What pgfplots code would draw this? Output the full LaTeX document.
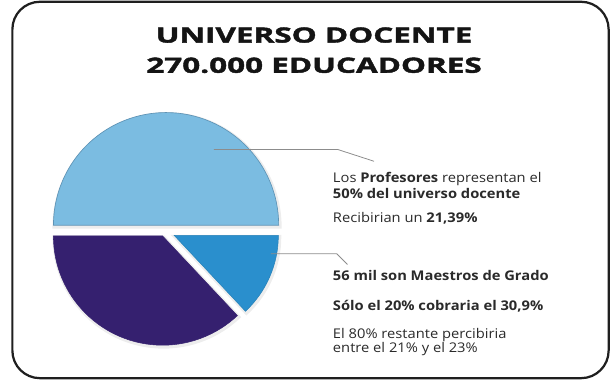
\documentclass[border=0pt]{standalone}
\usepackage{pgfplots}
\pgfplotsset{compat=1.18}
\usepackage{pgfplotstable}
\usepackage{fontspec}
\setmainfont{Open Sans}
\newfontfamily\bodyfont[FakeStretch=1.1]{Open Sans}
\newfontfamily\titlefont[FakeStretch=1.5,BoldFeatures={FakeBold=2}]{Open Sans}
\definecolor{lblue}{HTML}{7BBCE1}
\definecolor{lblueedge}{HTML}{5E93B5}
\definecolor{mblue}{HTML}{2A8FCD}
\definecolor{dpurple}{HTML}{35206F}
\definecolor{txt}{HTML}{2A2A2A}
\pgfplotstableread{
label value
Profesores 50
Otros 37
Maestros 13
}\piedata
\begin{document}
\pgfplotstablegetelem{0}{value}\of\piedata \let\va\pgfplotsretval
\pgfplotstablegetelem{1}{value}\of\piedata \let\vb\pgfplotsretval
\pgfplotstablegetelem{2}{value}\of\piedata \let\vc\pgfplotsretval
\pgfmathsetmacro{\angA}{3.6*\va}
\pgfmathsetmacro{\angB}{\angA+3.6*\vb}
\pgfmathsetmacro{\angC}{\angB+3.6*\vc}
\begin{tikzpicture}
\begin{axis}[
  width=457.5pt, height=290.25pt, scale only axis,
  xmin=0, xmax=610, ymin=0, ymax=387, y dir=reverse,
  hide axis, clip=false,
]
\coordinate (bbA) at (axis cs:0,387);
\coordinate (bbB) at (axis cs:610,0);
% border
\draw[black!88, line width=1.7pt, rounded corners=21pt] (axis cs:2.2,1.8) rectangle (axis cs:608.6,384.6);
% shadows
\path[fill=black!12, draw=black!7, line width=3pt] (axis cs:159.5,230.5) -- ++(0:85.9pt) arc[start angle=0,end angle=\angA,radius=85.9pt] -- cycle;
\path[fill=black!12, draw=black!7, line width=3pt] (axis cs:156,241.5) -- ++(\angA:83.3pt) arc[start angle=\angA,end angle=\angB,radius=83.3pt] -- cycle;
\path[fill=black!12, draw=black!7, line width=3pt] (axis cs:167.7,240.8) -- ++(\angB:79.5pt) arc[start angle=\angB,end angle=\angC,radius=79.5pt] -- cycle;
% slices
\path[fill=lblue, draw=lblueedge, line width=0.5pt] (axis cs:158.5,229) -- ++(0:85.9pt) arc[start angle=0,end angle=\angA,radius=85.9pt] -- cycle;
\path[fill=dpurple, draw=dpurple, line width=0.4pt] (axis cs:155,240) -- ++(\angA:83.3pt) arc[start angle=\angA,end angle=\angB,radius=83.3pt] -- cycle;
\path[fill=mblue, draw=mblue!90!black, line width=0.4pt] (axis cs:166.7,239.3) -- ++(\angB:79.5pt) arc[start angle=\angB,end angle=\angC,radius=79.5pt] -- cycle;
% leader lines
\draw[black!45, line width=0.6pt] (axis cs:207,152) -- (axis cs:333,152) -- (axis cs:370,164);
\draw[black!45, line width=0.6pt] (axis cs:265,258) -- (axis cs:332,258) -- (axis cs:343,269);
% title
\node[anchor=base, font=\titlefont\bfseries\fontsize{16}{20}\selectfont, text=black!92] at (axis cs:309,43.3) {UNIVERSO DOCENTE};
\node[anchor=base, font=\titlefont\bfseries\fontsize{16}{20}\selectfont, text=black!92] at (axis cs:309,74) {270.000 EDUCADORES};
% texts
\begin{scope}[every node/.style={anchor=base west, inner sep=0pt, text=txt, font=\bodyfont\fontsize{10.2}{12}\selectfont}]
\node at (axis cs:328,185.7) {Los \textbf{Profesores} representan el};
\node at (axis cs:328,201.7) {\textbf{50\% del universo docente}};
\node at (axis cs:328,226) {Recibirian un \textbf{21,39\%}};
\node at (axis cs:328,285) {\textbf{56 mil son Maestros de Grado}};
\node at (axis cs:328,316) {\textbf{Sólo el 20\% cobraria el 30,9\%}};
\node at (axis cs:328,344) {El 80\% restante percibiria};
\node at (axis cs:328,358.3) {entre el 21\% y el 23\%};
\end{scope}
\end{axis}
\pgfresetboundingbox
\useasboundingbox (bbA) rectangle (bbB);
\end{tikzpicture}
\end{document}
